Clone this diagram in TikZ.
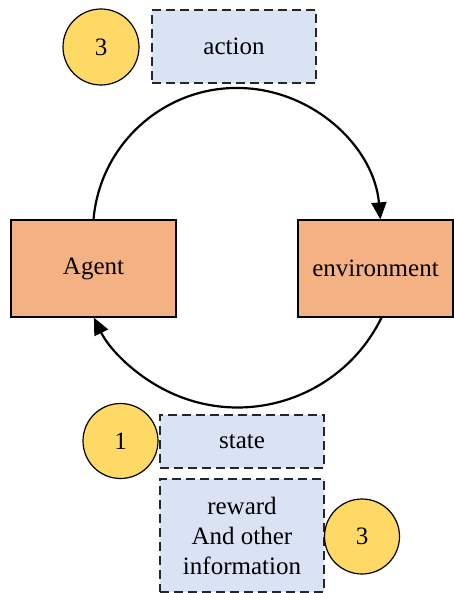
\documentclass[tikz,border=0pt]{standalone}
\usepackage{fontspec}
\setmainfont{Liberation Serif}
\usetikzlibrary{arrows.meta}
\definecolor{boxorange}{HTML}{F4B183}
\definecolor{notefill}{HTML}{DAE3F3}
\definecolor{badgefill}{HTML}{FFD966}
\begin{document}
\begin{tikzpicture}[x=1pt,y=1pt,
  every node/.style={font=\fontsize{25}{30}\selectfont, text=black},
  block/.style={draw=black, line width=1.2pt, fill=boxorange, inner sep=0pt},
  note/.style={draw=black!85, line width=1.5pt, dash pattern=on 9pt off 5pt,
               fill=notefill, inner sep=0pt, align=center},
  badge/.style={circle, draw=black, line width=1.2pt, fill=badgefill,
                minimum size=75pt, inner sep=0pt},
  flow/.style={draw=black, line width=2.2pt,
               -{Triangle[length=17pt,width=15pt]}}]
  \useasboundingbox (0,0) rectangle (454,-593);

  % the two actors
  \node[block, minimum width=165pt, minimum height=97pt] (agent) at (93.5,-268.5) {Agent};
  \node[block, minimum width=155pt, minimum height=97pt] (env) at (375.5,-268.5) {environment};

  % labels on the loop
  \node[note, minimum width=164pt, minimum height=73pt] (action) at (234,-46.5) {action};
  \node[note, minimum width=164pt, minimum height=53pt] (state) at (242,-441.5) {state};
  \node[note, minimum width=164pt, minimum height=113pt] (reward) at (242,-535.5)
       {reward\\And other\\information};

  % step badges
  \node[badge, minimum size=76pt] (badgeaction) at (101,-47) {3};
  \node[badge] (badgestate) at (120.5,-441) {1};
  \node[badge] (badgereward) at (362,-536.5) {3};

  % interaction loop: circular arcs from box edge to box edge
  \draw[flow] (agent.north) arc[start angle=175, end angle=5, radius=144pt];
  \draw[flow] ([xshift=6pt]env.south) arc[start angle=-26, end angle=-154, radius=160pt];
\end{tikzpicture}
\end{document}
